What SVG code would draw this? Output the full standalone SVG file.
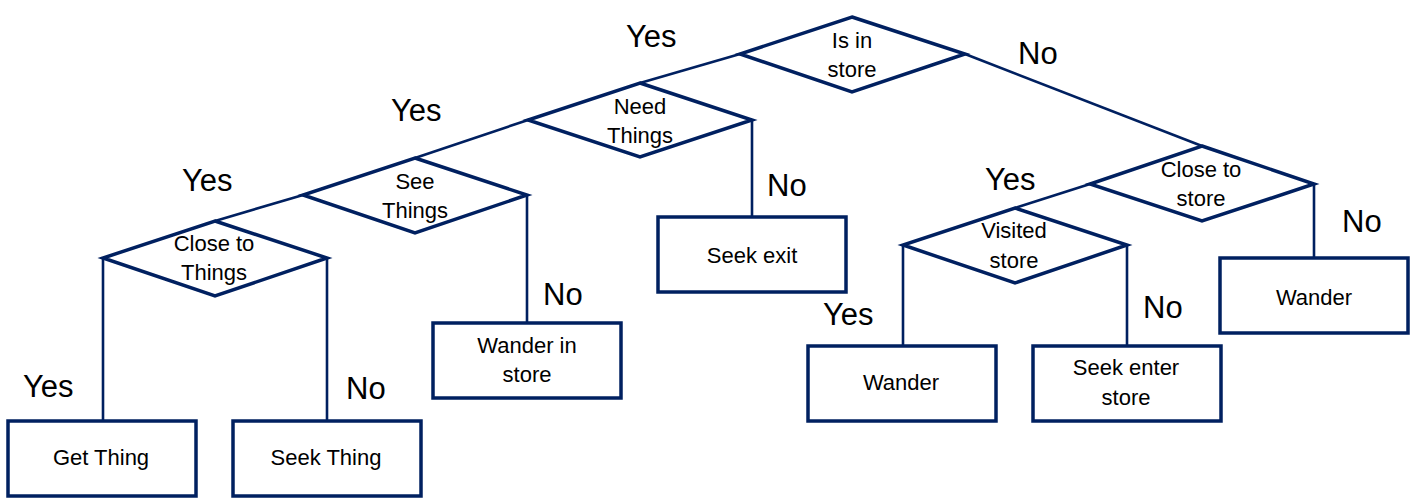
<svg xmlns="http://www.w3.org/2000/svg" width="1421" height="498" viewBox="0 0 1421 498">
<style>
.shape{fill:#ffffff;stroke:#002060;stroke-width:3.5;stroke-linejoin:miter}
.conn{fill:none;stroke:#002060;stroke-width:2.6}
.t{font-family:"Liberation Sans",Arial,sans-serif;font-size:22px;fill:#000000;text-anchor:middle}
.lbl{font-family:"Liberation Sans",Arial,sans-serif;font-size:31px;fill:#000000}
</style>
<rect width="1421" height="498" fill="#ffffff"/>
<g id="connectors">
<line class="conn" x1="740" y1="54" x2="640" y2="83"/>
<line class="conn" x1="965" y1="54" x2="1202" y2="146"/>
<line class="conn" x1="528" y1="120" x2="415" y2="158"/>
<polyline class="conn" points="752,120 752,217"/>
<line class="conn" x1="303" y1="195" x2="215" y2="221"/>
<polyline class="conn" points="527,195 527,323"/>
<polyline class="conn" points="103,258 103,421"/>
<polyline class="conn" points="327,258 327,421"/>
<line class="conn" x1="1090" y1="184" x2="1015" y2="208"/>
<polyline class="conn" points="1314,184 1314,258"/>
<polyline class="conn" points="903,245 903,346"/>
<polyline class="conn" points="1127,245 1127,346"/>
</g>
<g id="labels">
<text class="lbl" x="626" y="47">Yes</text>
<text class="lbl" x="1018" y="64">No</text>
<text class="lbl" x="391" y="121">Yes</text>
<text class="lbl" x="182" y="191">Yes</text>
<text class="lbl" x="985" y="190">Yes</text>
<text class="lbl" x="767" y="196">No</text>
<text class="lbl" x="1342" y="232">No</text>
<text class="lbl" x="543" y="305">No</text>
<text class="lbl" x="823" y="325">Yes</text>
<text class="lbl" x="1143" y="318">No</text>
<text class="lbl" x="23" y="397">Yes</text>
<text class="lbl" x="346" y="399">No</text>
</g>
<g id="is-in-store">
<polygon class="shape" points="852,17 965,54 852,92 740,54"/>
<text class="t" x="852" y="48">Is in</text>
<text class="t" x="852" y="77">store</text>
</g>
<g id="need-things">
<polygon class="shape" points="640,83 752,120 640,157 528,120"/>
<text class="t" x="640" y="114">Need</text>
<text class="t" x="640" y="143">Things</text>
</g>
<g id="see-things">
<polygon class="shape" points="415,158 527,195 415,233 303,195"/>
<text class="t" x="415" y="189">See</text>
<text class="t" x="415" y="218">Things</text>
</g>
<g id="close-to-things">
<polygon class="shape" points="215,221 327,258 215,296 103,258"/>
<text class="t" x="214" y="251">Close to</text>
<text class="t" x="214" y="280">Things</text>
</g>
<g id="close-to-store">
<polygon class="shape" points="1202,146 1314,184 1202,221 1090,184"/>
<text class="t" x="1201" y="177">Close to</text>
<text class="t" x="1201" y="206">store</text>
</g>
<g id="visited-store">
<polygon class="shape" points="1015,208 1127,245 1015,283 903,245"/>
<text class="t" x="1014" y="238">Visited</text>
<text class="t" x="1014" y="268">store</text>
</g>
<g id="get-thing">
<rect class="shape" x="8" y="421" width="188" height="75"/>
<text class="t" x="101" y="465">Get Thing</text>
</g>
<g id="seek-thing">
<rect class="shape" x="233" y="421" width="188" height="75"/>
<text class="t" x="326" y="465">Seek Thing</text>
</g>
<g id="wander-in-store">
<rect class="shape" x="433" y="323" width="188" height="75"/>
<text class="t" x="527" y="353">Wander in</text>
<text class="t" x="527" y="382">store</text>
</g>
<g id="seek-exit">
<rect class="shape" x="658" y="217" width="188" height="75"/>
<text class="t" x="752" y="263">Seek exit</text>
</g>
<g id="wander-1">
<rect class="shape" x="808" y="346" width="188" height="75"/>
<text class="t" x="901" y="390">Wander</text>
</g>
<g id="seek-enter-store">
<rect class="shape" x="1033" y="346" width="188" height="75"/>
<text class="t" x="1126" y="375">Seek enter</text>
<text class="t" x="1126" y="405">store</text>
</g>
<g id="wander-2">
<rect class="shape" x="1220" y="258" width="188" height="75"/>
<text class="t" x="1314" y="305">Wander</text>
</g>
</svg>
